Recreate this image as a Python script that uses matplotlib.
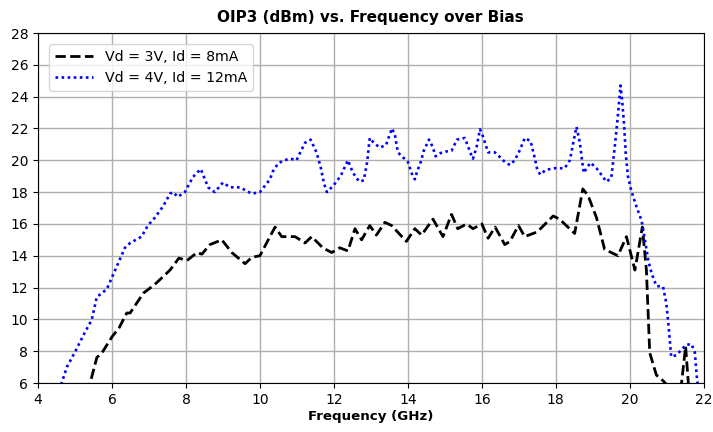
import matplotlib.pyplot as plt

# Vd = 3V, Id = 8mA
freq_a = [5.2, 5.41, 5.59, 5.73, 6.0, 6.2, 6.4, 6.49, 6.85, 7.16, 7.57, 7.81, 8.03, 8.3, 8.43,
          8.65, 8.97, 9.24, 9.6, 9.78, 10.0, 10.27, 10.41, 10.59, 10.95, 11.22, 11.4, 11.7,
          11.94, 12.16, 12.38, 12.57, 12.75, 12.97, 13.15, 13.38, 13.56, 13.96, 14.19, 14.37,
          14.68, 14.95, 15.18, 15.35, 15.59, 15.76, 16.0, 16.17, 16.36, 16.62, 16.76, 16.99,
          17.16, 17.5, 17.93, 18.1, 18.51, 18.73, 18.87, 19.1, 19.32, 19.68, 19.91, 20.14,
          20.34, 20.45, 20.54, 20.72, 20.92, 21.1, 21.3, 21.4, 21.51, 21.6, 21.7]
oip3_a = [4.5, 6.0, 7.6, 7.9, 8.9, 9.5, 10.4, 10.4, 11.65, 12.2, 13.1, 13.85, 13.7, 14.2, 14.1,
          14.7, 15.0, 14.2, 13.5, 13.9, 14.0, 15.2, 15.8, 15.2, 15.2, 14.8, 15.2, 14.5,
          14.2, 14.5, 14.3, 15.7, 15.0, 15.9, 15.3, 16.1, 15.9, 14.9, 15.7, 15.3,
          16.3, 15.2, 16.6, 15.7, 16.0, 15.7, 16.0, 15.1, 15.8, 14.7, 14.9, 15.9,
          15.2, 15.5, 16.5, 16.3, 15.4, 18.2, 17.8, 16.4, 14.4, 14.0, 15.2, 13.1,
          15.8, 13.1, 7.9, 6.5, 6.1, 5.6, 5.2, 6.0, 8.3, 5.5, 4.5]

# Vd = 4V, Id = 12mA
freq_b = [4.5, 4.64, 4.78, 5.0, 5.27, 5.45, 5.59, 5.86, 6.03, 6.35, 6.49, 6.8, 6.97, 7.16,
          7.38, 7.57, 7.65, 7.78, 7.97, 8.19, 8.4, 8.6, 8.78, 9.0, 9.19, 9.46, 9.78, 10.0,
          10.27, 10.35, 10.49, 10.65, 10.83, 10.99, 11.05, 11.22, 11.37, 11.53, 11.64, 11.73,
          11.81, 11.94, 12.07, 12.2, 12.38, 12.5, 12.6, 12.7, 12.81, 12.9, 12.97, 13.08,
          13.24, 13.41, 13.49, 13.57, 13.65, 13.73, 13.86, 14.0, 14.1, 14.19, 14.25, 14.35,
          14.43, 14.57, 14.67, 14.75, 14.88, 15.03, 15.18, 15.33, 15.54, 15.63, 15.72, 15.76,
          15.86, 15.95, 16.03, 16.17, 16.35, 16.49, 16.62, 16.76, 16.89, 17.03, 17.16, 17.32,
          17.43, 17.5, 17.58, 17.73, 17.97, 18.24, 18.38, 18.46, 18.56, 18.65, 18.72, 18.76,
          18.83, 18.94, 19.1, 19.23, 19.37, 19.5, 19.59, 19.66, 19.71, 19.75, 19.8, 19.85,
          19.89, 19.95, 20.04, 20.18, 20.32, 20.41, 20.5, 20.59, 20.72, 20.9, 20.99, 21.06,
          21.12, 21.26, 21.4, 21.53, 21.67, 21.76, 21.82, 21.9]
oip3_b = [5.2, 6.0, 7.0, 7.95, 9.2, 9.95, 11.4, 11.9, 12.8, 14.5, 14.8, 15.2, 15.9, 16.4,
          17.1, 17.9, 18.0, 17.7, 18.0, 18.95, 19.45, 18.3, 18.0, 18.6, 18.3, 18.3, 17.9, 18.0,
          18.8, 19.3, 19.8, 20.0, 20.1, 20.0, 20.3, 21.1, 21.3, 20.5, 19.6, 18.57,
          18.0, 18.3, 18.65, 19.1, 20.0, 19.3, 18.9, 18.65, 18.75, 19.9, 21.4, 21.1,
          20.8, 20.95, 21.5, 22.0, 21.6, 20.5, 20.2, 19.9, 19.2, 18.8, 19.3, 19.9,
          20.6, 21.3, 20.85, 20.25, 20.45, 20.55, 20.6, 21.3, 21.4, 20.85, 20.3, 20.1,
          20.85, 21.95, 21.5, 20.5, 20.5, 20.2, 19.9, 19.7, 20.0, 20.65, 21.4, 21.2,
          20.15, 19.4, 19.1, 19.4, 19.5, 19.5, 20.0, 20.95, 22.1, 21.1, 19.8, 19.2,
          19.5, 19.85, 19.5, 19.1, 18.65, 18.9, 20.75, 22.35, 23.6, 24.7, 23.6, 22.1,
          20.45, 19.0, 18.1, 17.1, 16.2, 15.0, 13.7, 12.9, 12.1, 12.05, 11.0, 9.3,
          7.65, 7.75, 8.1, 8.4, 8.45, 7.9, 6.2, 5.0]

fig = plt.figure(figsize=(7.13, 4.32), dpi=100)
ax = fig.add_axes([0.0533, 0.1134, 0.9337, 0.8102])

ax.plot(freq_a, oip3_a, color='black', linestyle='--', linewidth=2, label='Vd = 3V, Id = 8mA')
ax.plot(freq_b, oip3_b, color='blue', linestyle=(0, (1, 1.3)), linewidth=1.9,
        label='Vd = 4V, Id = 12mA')

ax.set_xlim(4, 22)
ax.set_ylim(6, 28)
ax.set_xticks(range(4, 23, 2))
ax.set_yticks(range(6, 29, 2))
ax.grid(True, color='#b0b0b0', linewidth=1)
ax.set_axisbelow(True)
ax.tick_params(labelsize=10)

ax.set_title('OIP3 (dBm) vs. Frequency over Bias', fontsize=11, fontweight='bold', pad=8)
ax.set_xlabel('Frequency (GHz)', fontsize=9.6, fontweight='bold', labelpad=2)
ax.legend(loc='upper left', fontsize=10.2, handlelength=2.7, borderaxespad=0.8)

fig.savefig('out.png', dpi=100)
